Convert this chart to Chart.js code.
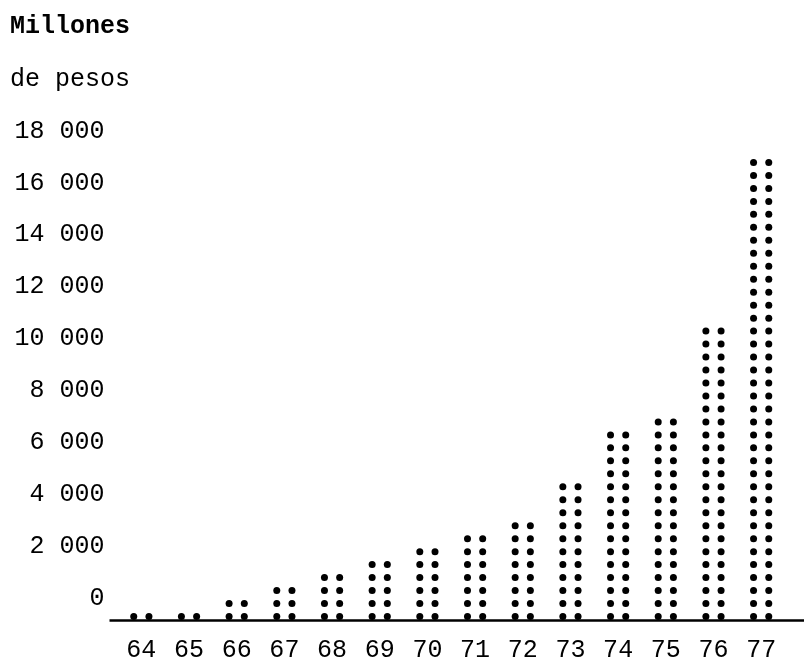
<!DOCTYPE html>
<html>
<head>
<meta charset="utf-8">
<script src="https://cdn.jsdelivr.net/npm/chart.js@4/dist/chart.umd.min.js"></script>
<style>
  html, body { margin: 0; padding: 0; background: #fff; }
  #wrap { width: 804px; height: 661px; }
</style>
</head>
<body>
<div id="wrap"><canvas id="dotChart"></canvas></div>
<script>
// years (x axis) and amounts in millions of pesos
const years = ["64", "65", "66", "67", "68", "69", "70", "71", "72", "73", "74", "75", "76", "77"];
const amounts = [250, 250, 770, 1220, 1670, 2250, 2650, 3230, 3760, 5220, 7250, 7720, 11220, 17690];
const yTicks = [0, 2000, 4000, 6000, 8000, 10000, 12000, 14000, 16000, 18000];
const dotValue = 500; // one typed dot stands for 500 million

const FONT = "'Liberation Mono', 'DejaVu Sans Mono', monospace";
const INK = "#000";

// typewriter style: every bar is two columns of dots, plus a baseline
const dotBars = {
  id: "dotBars",
  afterDatasetsDraw(chart) {
    const ctx = chart.ctx;
    const yScale = chart.scales.y;
    const meta = chart.getDatasetMeta(0);
    const r = 3.5;
    const gap = 7.6;

    ctx.save();
    ctx.fillStyle = "#000";
    meta.data.forEach(function (bar, i) {
      const n = Math.ceil(amounts[i] / dotValue);
      for (let k = 0; k < n; k++) {
        const py = yScale.getPixelForValue(k * dotValue) - r;
        [-gap, gap].forEach(function (dx) {
          ctx.beginPath();
          ctx.arc(bar.x + dx, py, r, 0, Math.PI * 2);
          ctx.fill();
        });
      }
    });

    // baseline runs a bit left of the first bar and off the right edge
    const base = yScale.getPixelForValue(0);
    ctx.strokeStyle = "#000";
    ctx.lineWidth = 2.5;
    ctx.beginPath();
    ctx.moveTo(chart.chartArea.left - 8, base + 0.5);
    ctx.lineTo(chart.width, base + 0.5);
    ctx.stroke();
    ctx.restore();
  },
};

const ctx = document.getElementById("dotChart").getContext("2d");
new Chart(ctx, {
  type: "bar",
  data: {
    labels: years,
    datasets: [
      {
        label: "Millones de pesos",
        data: amounts,
        backgroundColor: "rgba(0,0,0,0)",
        borderWidth: 0,
      },
    ],
  },
  options: {
    responsive: true,
    maintainAspectRatio: false,
    animation: false,
    layout: {
      padding: { left: 10, right: 19, top: 0, bottom: 0 },
    },
    plugins: {
      legend: { display: false },
      tooltip: { enabled: false },
      title: {
        display: true,
        text: "Millones",
        align: "start",
        color: INK,
        font: { family: FONT, size: 25, weight: "bold" },
        padding: { top: 12, bottom: 0 },
      },
      subtitle: {
        display: true,
        text: "de pesos",
        align: "start",
        color: INK,
        font: { family: FONT, size: 25 },
        padding: { top: 22, bottom: 59 },
      },
    },
    scales: {
      x: {
        grid: { display: false },
        border: { display: false },
        afterFit: function (scale) {
          scale.height = 41;
        },
        ticks: {
          color: INK,
          font: { family: FONT, size: 25 },
          padding: 7,
          maxRotation: 0,
        },
      },
      y: {
        min: 0,
        max: 18000,
        grid: { display: false },
        border: { display: false },
        afterBuildTicks: function (scale) {
          scale.ticks = yTicks.map(function (v) { return { value: v }; });
        },
        afterFit: function (scale) {
          scale.width = 107.5;
        },
        ticks: {
          color: INK,
          font: { family: FONT, size: 25 },
          padding: 5,
          labelOffset: -22,
          callback: function (value) {
            return String(value).replace(/\B(?=(\d{3})+(?!\d))/g, " ");
          },
        },
      },
    },
  },
  plugins: [dotBars],
});
</script>
</body>
</html>
